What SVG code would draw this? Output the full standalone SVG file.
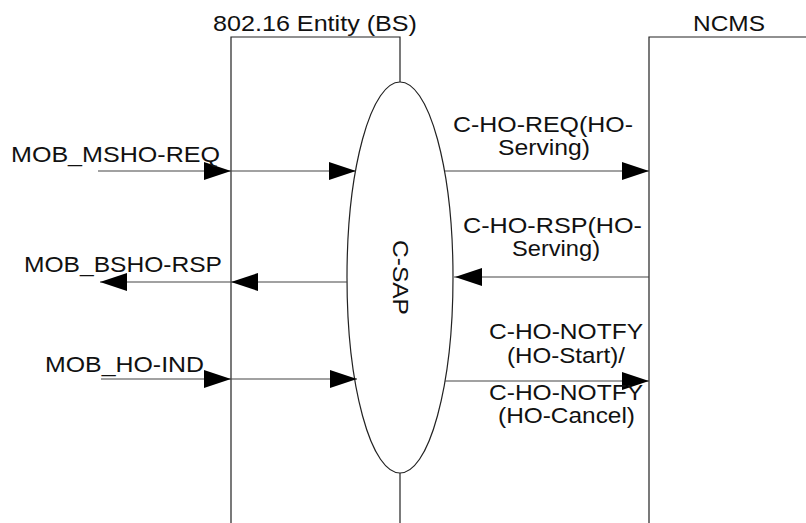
<svg xmlns="http://www.w3.org/2000/svg" xmlns:xlink="http://www.w3.org/1999/xlink" width="806" height="523" viewBox="0 0 806 523">
<style>
  .box { fill: none; stroke: #222; stroke-width: 1.2; }
  .conn { fill: none; stroke: #444; stroke-width: 1.2; }
  .lbl { font-family: "Liberation Sans", Arial, sans-serif; font-size: 22px; fill: #111; }
  .ah { fill: #000; }
</style>
<defs>
  <path id="ahR" class="ah" d="M0,0 L-27,-9 L-27,9 Z"/>
  <path id="ahL" class="ah" d="M0,0 L27,-9 L27,9 Z"/>
</defs>
<rect width="806" height="523" fill="#fff"/>

<g id="bs-entity">
  <path class="box" d="M231,523 V37 H400 V82"/>
  <path class="box" d="M400,473 V523"/>
  <text class="lbl" x="213" y="31" textLength="204" lengthAdjust="spacingAndGlyphs">802.16 Entity (BS)</text>
</g>

<g id="ncms">
  <path class="box" d="M649,523 V37 H806"/>
  <text class="lbl" x="693" y="31" textLength="72" lengthAdjust="spacingAndGlyphs">NCMS</text>
</g>

<g id="c-sap">
  <ellipse class="box" cx="400" cy="277.5" rx="53" ry="195.5"/>
  <text class="lbl" transform="translate(393,240) rotate(90)" x="0" y="0" textLength="75" lengthAdjust="spacingAndGlyphs">C-SAP</text>
</g>

<g id="connectors">
  <g id="mob-msho-req">
    <line class="conn" x1="98" y1="171" x2="356" y2="171"/>
    <use xlink:href="#ahR" href="#ahR" transform="translate(231,171)"/>
    <use xlink:href="#ahR" href="#ahR" transform="translate(356,171)"/>
    <text class="lbl" x="11" y="162" textLength="209" lengthAdjust="spacingAndGlyphs">MOB_MSHO-REQ</text>
  </g>
  <g id="mob-bsho-rsp">
    <line class="conn" x1="347" y1="282" x2="100" y2="282"/>
    <use xlink:href="#ahL" href="#ahL" transform="translate(231,282)"/>
    <use xlink:href="#ahL" href="#ahL" transform="translate(100,282)"/>
    <text class="lbl" x="24" y="272" textLength="198" lengthAdjust="spacingAndGlyphs">MOB_BSHO-RSP</text>
  </g>
  <g id="mob-ho-ind">
    <line class="conn" x1="101" y1="379" x2="357" y2="379"/>
    <use xlink:href="#ahR" href="#ahR" transform="translate(231,379)"/>
    <use xlink:href="#ahR" href="#ahR" transform="translate(357,379)"/>
    <text class="lbl" x="45" y="372" textLength="159" lengthAdjust="spacingAndGlyphs">MOB_HO-IND</text>
  </g>
  <g id="c-ho-req">
    <line class="conn" x1="445" y1="171" x2="649" y2="171"/>
    <use xlink:href="#ahR" href="#ahR" transform="translate(649,171)"/>
    <text class="lbl" x="453" y="132" textLength="180" lengthAdjust="spacingAndGlyphs">C-HO-REQ(HO-</text>
    <text class="lbl" x="498" y="155" textLength="92" lengthAdjust="spacingAndGlyphs">Serving)</text>
  </g>
  <g id="c-ho-rsp">
    <line class="conn" x1="649" y1="277" x2="454" y2="277"/>
    <use xlink:href="#ahL" href="#ahL" transform="translate(455,277)"/>
    <text class="lbl" x="463" y="233" textLength="179" lengthAdjust="spacingAndGlyphs">C-HO-RSP(HO-</text>
    <text class="lbl" x="512" y="256" textLength="88" lengthAdjust="spacingAndGlyphs">Serving)</text>
  </g>
  <g id="c-ho-notify">
    <line class="conn" x1="445" y1="381" x2="649" y2="381"/>
    <use xlink:href="#ahR" href="#ahR" transform="translate(649,381)"/>
    <text class="lbl" x="489" y="339" textLength="154" lengthAdjust="spacingAndGlyphs">C-HO-NOTFY</text>
    <text class="lbl" x="507" y="363" textLength="118" lengthAdjust="spacingAndGlyphs">(HO-Start)/</text>
    <text class="lbl" x="489" y="400" textLength="154" lengthAdjust="spacingAndGlyphs">C-HO-NOTFY</text>
    <text class="lbl" x="498" y="423" textLength="137" lengthAdjust="spacingAndGlyphs">(HO-Cancel)</text>
  </g>
</g>
</svg>
